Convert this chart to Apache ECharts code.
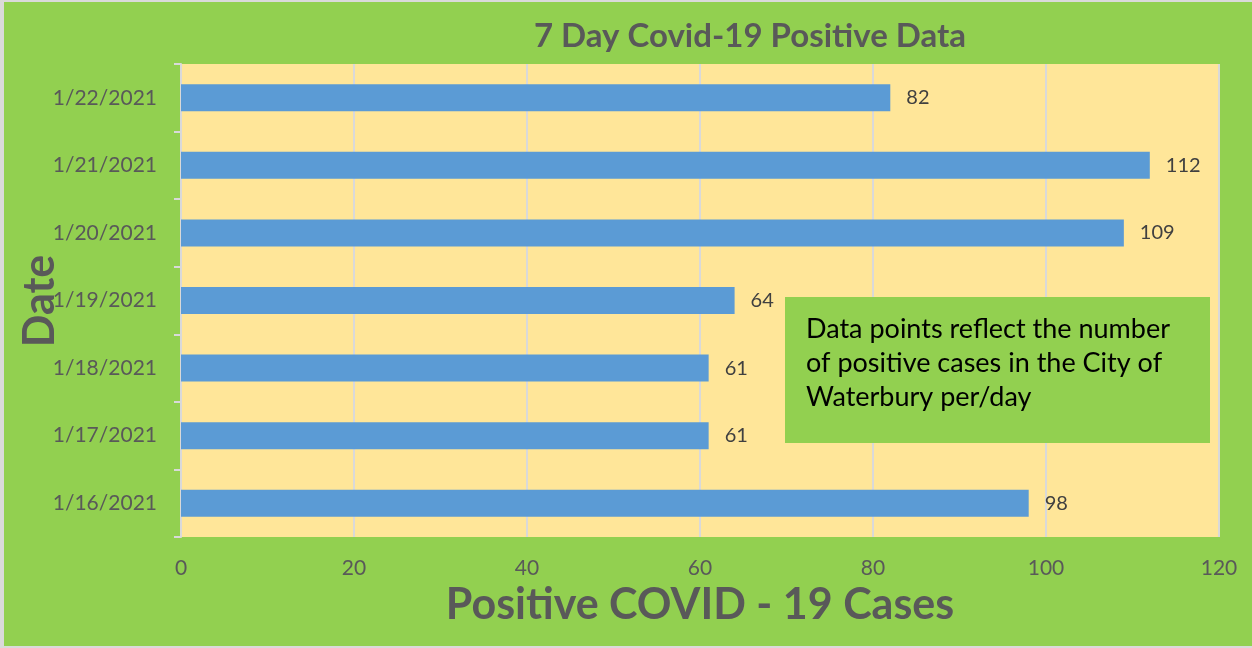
<!DOCTYPE html>
<html>
<head>
<meta charset="utf-8">
<script src="https://cdn.jsdelivr.net/npm/echarts@6/dist/echarts.min.js"></script>
<style>
html,body{margin:0;padding:0;background:#fff;}
#chart{position:absolute;left:0;top:0;width:1252px;height:648px;}
#frame{position:absolute;left:0;top:0;width:1252px;height:648px;box-sizing:border-box;border-left:4px solid #dadada;border-top:2px solid #dadada;border-bottom:2px solid #dadada;pointer-events:none;}
</style>
</head>
<body>
<div id="chart"></div>
<div id="frame"></div>
<script>
const categories = ['1/16/2021','1/17/2021','1/18/2021','1/19/2021','1/20/2021','1/21/2021','1/22/2021'];
const values = [98, 61, 61, 64, 109, 112, 82];
const titleText = '7 Day Covid-19 Positive Data';
const xAxisTitle = 'Positive COVID - 19 Cases';
const yAxisTitle = 'Date';
const noteText = 'Data points reflect the number\nof positive cases in the City of\nWaterbury per/day';

const FONT = 'Lato, "Open Sans", sans-serif';
const chart = echarts.init(document.getElementById('chart'), null, {renderer:'canvas'});
chart.setOption({
  backgroundColor: '#92D050',
  animation: false,
  title: {
    text: titleText,
    left: 745, top: 15, textAlign: 'center',
    textStyle: {fontFamily: FONT, fontSize: 33, fontWeight: 'bold', color: '#595959'}
  },
  grid: {left: 181, right: 33, top: 64, bottom: 111, backgroundColor: '#FFE699', show: true, borderWidth: 0,
         containLabel: false, outerBoundsMode: 'none'},
  xAxis: {
    type: 'value', min: 0, max: 120, interval: 20,
    name: xAxisTitle, nameLocation: 'middle', nameGap: 46,
    nameTextStyle: {fontFamily: FONT, fontSize: 43, fontWeight: 'bold', color: '#595959'},
    axisLine: {show: false}, axisTick: {show: false},
    axisLabel: {fontFamily: FONT, fontSize: 21, color: '#595959', margin: 21},
    splitLine: {show: true, lineStyle: {color: '#D9D9D9', width: 2}}
  },
  yAxis: {
    type: 'category', data: categories,
    axisLine: {show: true, lineStyle: {color: '#D9D9D9', width: 2}},
    axisTick: {show: true, length: 7, lineStyle: {color: '#D9D9D9', width: 2}},
    axisLabel: {fontFamily: FONT, fontSize: 21, color: '#595959', margin: 24},
    splitLine: {show: false}
  },
  series: [{
    type: 'bar', data: values, barWidth: '40%',
    itemStyle: {color: '#5B9BD5'},
    label: {show: true, position: 'right', distance: 16, fontFamily: FONT, fontSize: 20, color: '#404040'}
  }],
  graphic: [{
    type: 'text', x: 40, y: 301, rotation: Math.PI / 2, z: 50,
    style: {text: yAxisTitle, fontFamily: FONT, fontSize: 43, fontWeight: 'bold', fill: '#595959',
            textAlign: 'center', textVerticalAlign: 'middle'}
  }, {
    type: 'rect', left: 785, top: 297, z: 100,
    shape: {width: 425, height: 146},
    style: {fill: '#92D050'}
  }, {
    type: 'text', left: 806, top: 312, z: 101,
    style: {text: noteText, fontFamily: FONT, fontSize: 27, lineHeight: 34, fill: '#000'}
  }]
});
</script>
</body>
</html>
